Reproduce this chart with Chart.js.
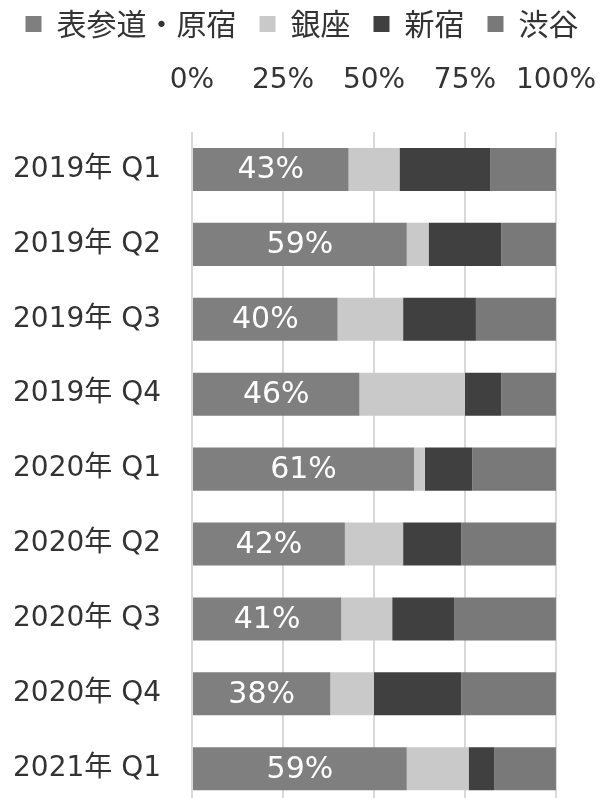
<!DOCTYPE html>
<html>
<head>
<meta charset="utf-8">
<script src="https://cdn.jsdelivr.net/npm/chart.js@4"></script>
<style>
    html, body { margin: 0; padding: 0; background: #fff; overflow: hidden; }
    #wrap { width: 604px; height: 836px; position: relative; }
</style>
</head>
<body>
<div id="wrap"><canvas id="graphique-quartiers"></canvas></div>
<script>
const trimestres = ["2019年 Q1", "2019年 Q2", "2019年 Q3", "2019年 Q4", "2020年 Q1", "2020年 Q2", "2020年 Q3", "2020年 Q4", "2021年 Q1"]
const omotesando = [43, 59, 40, 46, 61, 42, 41, 38, 59]
const ginza = [14, 6, 18, 29, 3, 16, 14, 12, 17]
const shinjuku = [25, 20, 20, 10, 13, 16, 17, 24, 7]
const shibuya = [18, 15, 22, 15, 23, 26, 28, 26, 17]
const graduations = [0, 25, 50, 75, 100]

const police = "'DejaVu Sans', 'Noto Sans CJK JP', sans-serif"

// Pourcentages en blanc au milieu des barres de la première série
const etiquettes = {
    id: "etiquettes",
    afterDatasetsDraw(chart) {
        const ctx = chart.ctx
        const meta = chart.getDatasetMeta(0)
        ctx.save()
        ctx.fillStyle = "#ffffff"
        ctx.font = "30px " + police
        ctx.textAlign = "center"
        ctx.textBaseline = "middle"
        meta.data.forEach((barre, i) => {
            const x = (barre.x + barre.base) / 2
            ctx.fillText(omotesando[i] + "%", x, barre.y + 1)
        })
        ctx.restore()
    }
}

const data = {
    labels: trimestres,
    datasets: [
        { label: "表参道・原宿", data: omotesando, backgroundColor: "#7f7f7f" },
        { label: "銀座", data: ginza, backgroundColor: "#c9c9c9" },
        { label: "新宿", data: shinjuku, backgroundColor: "#404040" },
        { label: "渋谷", data: shibuya, backgroundColor: "#797979" }
    ]
}

const config = {
    type: "bar",
    data: data,
    options: {
        indexAxis: "y",
        responsive: true,
        maintainAspectRatio: false,
        animation: false,
        layout: { padding: { top: -14, left: 0, right: 0, bottom: 0 } },
        datasets: {
            bar: { categoryPercentage: 1, barPercentage: 0.575 }
        },
        scales: {
            x: {
                position: "top",
                stacked: true,
                min: 0,
                max: 100,
                afterBuildTicks: axe => { axe.ticks = graduations.map(v => ({ value: v })) },
                afterFit: axe => { axe.height = 83 },
                border: { display: false },
                grid: { color: "#d9d9d9", lineWidth: 2, tickLength: 26, tickColor: "rgba(0,0,0,0)" },
                ticks: {
                    padding: 8,
                    color: "#333333",
                    font: { family: police, size: 28 },
                    callback: v => v + "%"
                }
            },
            y: {
                stacked: true,
                border: { display: false },
                grid: { display: false, tickLength: 18 },
                ticks: {
                    padding: 13,
                    color: "#333333",
                    font: { family: police, size: 28 }
                }
            }
        },
        plugins: {
            legend: {
                position: "top",
                labels: {
                    boxWidth: 16,
                    boxHeight: 16,
                    padding: 23,
                    color: "#333333",
                    font: { family: "'Noto Sans CJK JP', sans-serif", size: 30 }
                }
            },
            tooltip: { enabled: false }
        }
    },
    plugins: [etiquettes]
}

const graphique = new Chart(document.querySelector("#graphique-quartiers"), config)
</script>
</body>
</html>
